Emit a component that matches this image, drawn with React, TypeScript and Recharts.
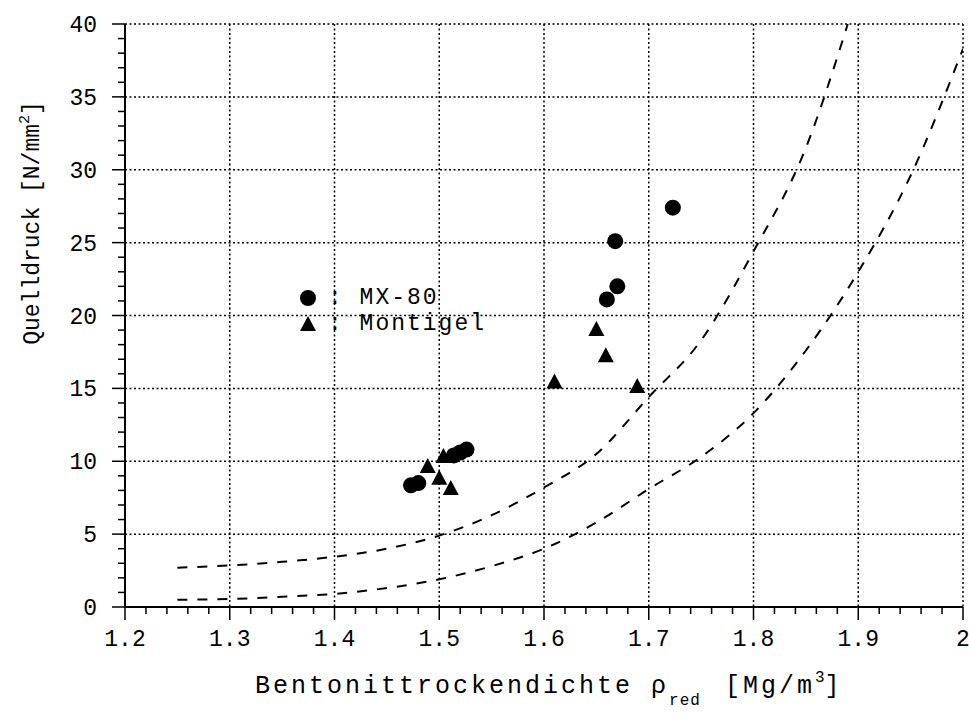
import {
  ComposedChart,
  Scatter,
  Line,
  XAxis,
  YAxis,
  CartesianGrid,
  Legend,
} from 'recharts'

// measured points
const MX80_X = [1.473, 1.480, 1.514, 1.520, 1.526, 1.660, 1.668, 1.670, 1.723]
const MX80_Y = [8.35, 8.5, 10.4, 10.6, 10.8, 21.1, 25.1, 22.0, 27.4]
const MONT_X = [1.489, 1.500, 1.504, 1.511, 1.610, 1.650, 1.659, 1.689]
const MONT_Y = [9.6, 8.8, 10.3, 8.1, 15.4, 19.0, 17.2, 15.1]

// dashed reference curves
const UPPER_X = [1.25, 1.3, 1.35, 1.4, 1.45, 1.5, 1.55, 1.6, 1.65, 1.7, 1.75, 1.8, 1.85, 1.89]
const UPPER_Y = [2.7, 2.85, 3.1, 3.45, 4.0, 4.9, 6.3, 8.2, 10.5, 14.4, 18.3, 24.4, 31.5, 40]
const LOWER_X = [1.25, 1.3, 1.35, 1.4, 1.45, 1.5, 1.55, 1.6, 1.65, 1.7, 1.75, 1.8, 1.85, 1.9, 1.95, 2.0]
const LOWER_Y = [0.5, 0.55, 0.7, 0.9, 1.3, 1.9, 2.8, 4.0, 5.8, 8.1, 10.3, 13.3, 17.6, 23.0, 29.6, 38.3]

const X_MAJOR = [1.2, 1.3, 1.4, 1.5, 1.6, 1.7, 1.8, 1.9, 2.0]
const Y_MAJOR = [0, 5, 10, 15, 20, 25, 30, 35, 40]
const X_TICKS = Array.from({ length: 41 }, (_, i) => Math.round((1.2 + i * 0.02) * 100) / 100)
const Y_TICKS = Array.from({ length: 41 }, (_, i) => i)

const zip = (xs: number[], ys: number[]) => xs.map((x, i) => ({ x, y: ys[i] }))
const mx80 = zip(MX80_X, MX80_Y)
const montigel = zip(MONT_X, MONT_Y)
const upper = zip(UPPER_X, UPPER_Y)
const lower = zip(LOWER_X, LOWER_Y)

const FONT = '"Liberation Mono", "DejaVu Sans Mono", monospace'

const XTick = (props: any) => {
  const { x, y, payload } = props
  const v = payload.value
  const major = X_MAJOR.some((m) => Math.abs(m - v) < 1e-6)
  return (
    <g>
      <line x1={x} x2={x} y1={y} y2={y + (major ? 13 : 7)} stroke="#000" strokeWidth={1.5} />
      {major && (
        <text x={x} y={y + 39} textAnchor="middle" fontFamily={FONT} fontSize={23} fill="#000">
          {String(Number(v.toFixed(1)))}
        </text>
      )}
    </g>
  )
}

const YTick = (props: any) => {
  const { x, y, payload } = props
  const v = payload.value
  const major = v % 5 === 0
  return (
    <g>
      <line x1={x - (major ? 13 : 7)} x2={x} y1={y} y2={y} stroke="#000" strokeWidth={1.5} />
      {major && (
        <text x={x - 28} y={y} dy="0.35em" textAnchor="end" fontFamily={FONT} fontSize={23} fill="#000">
          {v}
        </text>
      )}
    </g>
  )
}

const XLabel = () => (
  <text x={255} y={693} fontFamily={FONT} fontSize={25} letterSpacing={3} fill="#000">
    Bentonittrockendichte ρ
    <tspan dy={12} fontSize={16} letterSpacing={1}>red</tspan>
    <tspan dx={24} dy={-12}>[Mg/m</tspan>
    <tspan dy={-11} fontSize={16} letterSpacing={0}>3</tspan>
    <tspan dy={11}>]</tspan>
  </text>
)

const YLabel = () => (
  <text
    x={0}
    y={0}
    transform="translate(39 223) rotate(-90)"
    textAnchor="middle"
    fontFamily={FONT}
    fontSize={23}
    fill="#000"
  >
    Quelldruck [N/mm
    <tspan dy={-10} fontSize={15}>2</tspan>
    <tspan dy={10}>]</tspan>
  </text>
)

const circle = (p: any) => <circle cx={p.cx} cy={p.cy} r={8} fill="#000" />
const triangle = (p: any) => (
  <polygon
    points={`${p.cx},${p.cy - 9} ${p.cx - 8},${p.cy + 6} ${p.cx + 8},${p.cy + 6}`}
    fill="#000"
  />
)

const LegendBox = () => (
  <div style={{ fontFamily: FONT, fontSize: 23, letterSpacing: 2, lineHeight: '26px', color: '#000' }}>
    <div style={{ display: 'flex', alignItems: 'center' }}>
      <svg width={20} height={20}>
        <circle cx={10} cy={10} r={8} fill="#000" />
      </svg>
      <span style={{ marginLeft: 10 }}>: MX-80</span>
    </div>
    <div style={{ display: 'flex', alignItems: 'center' }}>
      <svg width={20} height={20}>
        <polygon points="10,2 2,17 18,17" fill="#000" />
      </svg>
      <span style={{ marginLeft: 10 }}>: Montigel</span>
    </div>
  </div>
)

export default function App() {
  return (
    <div style={{ position: 'absolute', left: 0, top: 0, background: '#fff' }}>
      <ComposedChart width={969} height={713} margin={{ top: 24, right: 6, left: 0, bottom: 0 }}>
        <CartesianGrid
          stroke="#000"
          strokeDasharray="2 2.5"
          strokeWidth={1.5}
          verticalValues={X_MAJOR}
          horizontalValues={Y_MAJOR}
        />
        <XAxis
          dataKey="x"
          type="number"
          domain={[1.2, 2]}
          ticks={X_TICKS}
          interval={0}
          allowDataOverflow
          height={106}
          tickSize={0}
          tickMargin={0}
          tickLine={false}
          tick={<XTick />}
          axisLine={{ stroke: '#000', strokeWidth: 2 }}
          label={{ content: () => <XLabel /> }}
        />
        <YAxis
          dataKey="y"
          type="number"
          domain={[0, 40]}
          ticks={Y_TICKS}
          interval={0}
          allowDataOverflow
          width={125}
          tickSize={0}
          tickMargin={0}
          tickLine={false}
          tick={<YTick />}
          axisLine={{ stroke: '#000', strokeWidth: 2 }}
          label={{ content: () => <YLabel /> }}
        />
        <Line
          data={upper}
          dataKey="y"
          type="monotone"
          stroke="#000"
          strokeWidth={2}
          strokeDasharray="10 10"
          dot={false}
          activeDot={false}
          legendType="none"
          isAnimationActive={false}
        />
        <Line
          data={lower}
          dataKey="y"
          type="monotone"
          stroke="#000"
          strokeWidth={2}
          strokeDasharray="10 10"
          dot={false}
          activeDot={false}
          legendType="none"
          isAnimationActive={false}
        />
        <Scatter data={montigel} dataKey="y" shape={triangle} isAnimationActive={false} />
        <Scatter data={mx80} dataKey="y" shape={circle} isAnimationActive={false} />
        <Legend
          layout="horizontal"
          verticalAlign="middle"
          align="center"
          content={() => <LegendBox />}
          wrapperStyle={{ position: 'absolute', left: 298, top: 285, width: 'auto' }}
        />
      </ComposedChart>
    </div>
  )
}
